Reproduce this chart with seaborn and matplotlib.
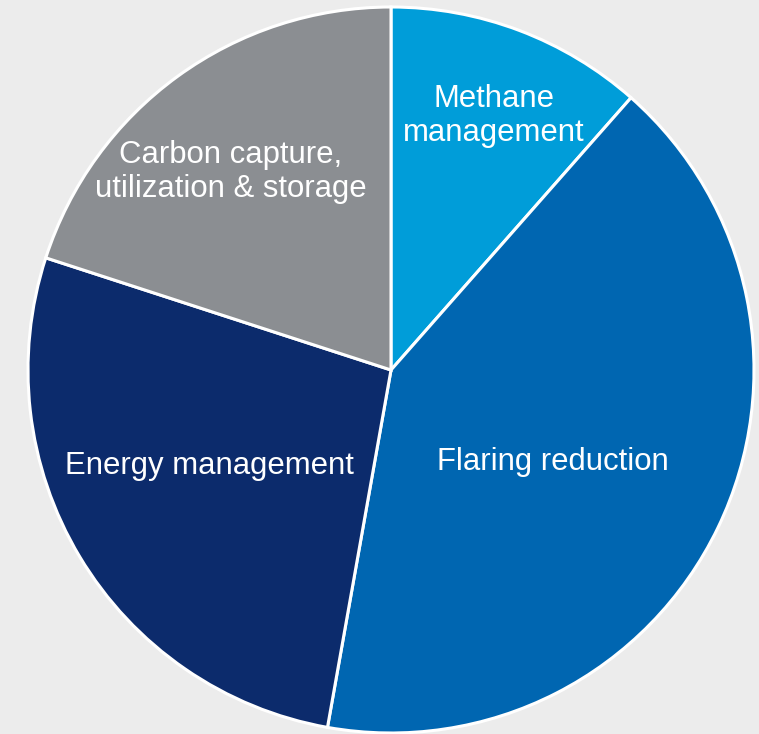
import matplotlib
matplotlib.use("Agg")
import matplotlib.pyplot as plt
import seaborn as sns

# slice data, clockwise from 12 o'clock
categories = ["Methane\nmanagement", "Flaring reduction", "Energy management",
              "Carbon capture,\nutilization & storage"]
shares = [11.5, 41.3, 27.2, 20.0]
colors = ["#009dd9", "#0066b1", "#0c2b6c", "#8b8e92"]

# label anchor in pixels (layout only)
label_pos = [(494, 116), (553, 462), (209, 466), (231, 172)]

sns.set_theme(style="white")
plt.rcParams["font.family"] = ["Liberation Sans", "DejaVu Sans"]

W, H = 759, 734
cx, cy, R = 391, 370, 363

fig = plt.figure(figsize=(W / 100, H / 100), dpi=100, facecolor="#ececec")
ax = fig.add_axes([0, 0, 1, 1])
ax.set_facecolor("#ececec")

wedges, _ = ax.pie(shares, colors=sns.color_palette(colors), startangle=90,
                   counterclock=False, radius=1.0,
                   wedgeprops=dict(edgecolor="white", linewidth=2.2))

ax.set_xlim(-cx / R, (W - cx) / R)
ax.set_ylim(-(H - cy) / R, cy / R)
ax.set_aspect("auto")
ax.axis("off")

for lab, (px, py) in zip(categories, label_pos):
    ax.text(px / W, 1 - py / H, lab, transform=ax.transAxes, ha="center",
            va="center", color="white", fontsize=22.4, linespacing=1.2)

fig.savefig("out.png", dpi=100, facecolor=fig.get_facecolor())
